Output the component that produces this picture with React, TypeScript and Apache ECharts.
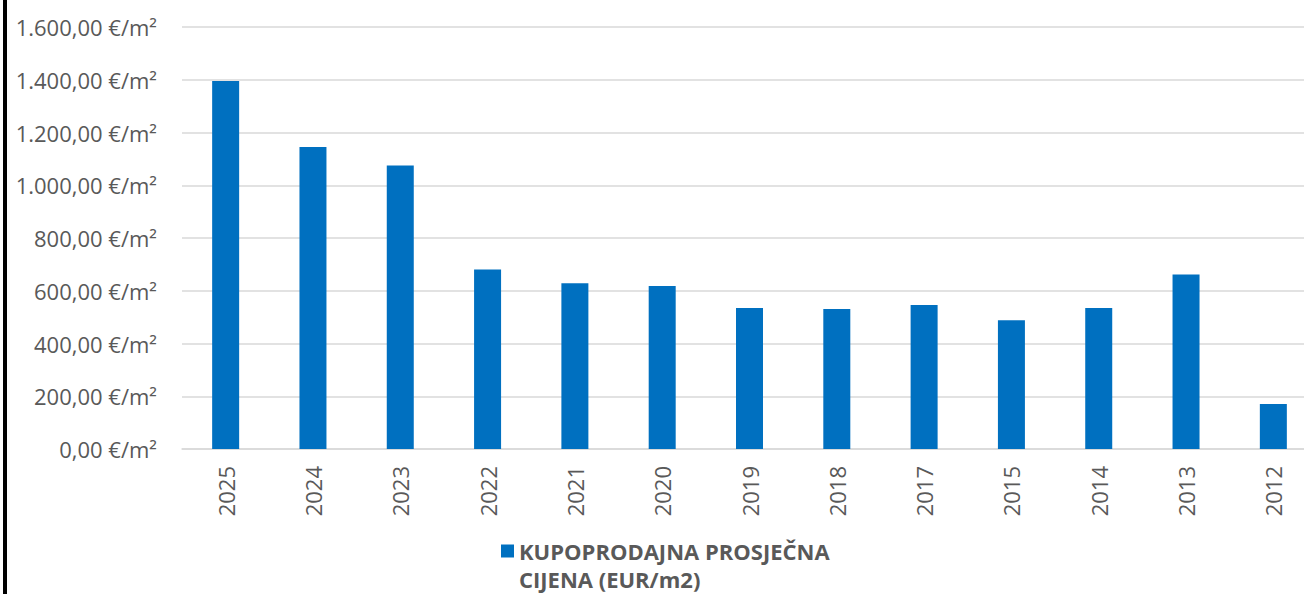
import React, { useEffect, useRef } from "react";
import * as echarts from "echarts";

const categories = ["2025", "2024", "2023", "2022", "2021", "2020", "2019", "2018", "2017", "2015", "2014", "2013", "2012"];
const prices = [1395, 1145, 1075, 681, 628, 618, 535, 531, 546, 488, 535, 662, 171];
const seriesName = "KUPOPRODAJNA PROSJEČNA CIJENA (EUR/m2)";
const legendLines = ["KUPOPRODAJNA PROSJEČNA", "CIJENA (EUR/m2)"];

function formatEur(v: number): string {
  const fixed = v.toFixed(2);
  const [intPart, dec] = fixed.split(".");
  const withDots = intPart.replace(/\B(?=(\d{3})+(?!\d))/g, ".");
  return withDots + "," + dec + " €/m²";
}

export default function App() {
  const ref = useRef<HTMLDivElement>(null);
  useEffect(() => {
    if (!ref.current) return;
    const chart = echarts.init(ref.current, undefined, { renderer: "svg" });
    const font = "'Open Sans', sans-serif";
    chart.setOption({
      animation: false,
      backgroundColor: "#ffffff",
      grid: { left: 182, right: -13, top: 27, bottom: 145, containLabel: false, outerBoundsMode: "none" },
      xAxis: {
        type: "category",
        data: categories,
        axisLine: { show: true, lineStyle: { color: "#d9d9d9", width: 1.5 } },
        axisTick: { show: false },
        axisLabel: { rotate: 90, margin: 17, color: "#595959", fontSize: 22, fontFamily: font },
      },
      yAxis: {
        type: "value",
        min: 0,
        max: 1600,
        interval: 200,
        axisLine: { show: false },
        axisTick: { show: false },
        splitLine: { lineStyle: { color: "#d9d9d9", width: 1.5 } },
        axisLabel: { margin: 25, color: "#595959", fontSize: 22, fontFamily: font, formatter: (v: number) => formatEur(v) },
      },
      legend: {
        left: 501,
        top: 509,
        padding: 0,
        itemWidth: 13,
        itemHeight: 13,
        icon: "rect",
        data: [seriesName],
        formatter: () => " \n" + legendLines.join("\n"),
        textStyle: { color: "#595959", fontSize: 22, fontWeight: "bold", fontFamily: font, lineHeight: 28 },
      },
      graphic: [
        { type: "rect", left: 3, top: 0, shape: { width: 4, height: 594 }, style: { fill: "#000000" }, z: 100 },
      ],
      series: [
        {
          name: seriesName,
          type: "bar",
          data: prices,
          barWidth: 27,
          itemStyle: { color: "#0070C0" },
        },
      ],
    });
    return () => chart.dispose();
  }, []);
  return <div ref={ref} style={{ position: "fixed", left: 0, top: 0, width: 1304, height: 594 }} />;
}
